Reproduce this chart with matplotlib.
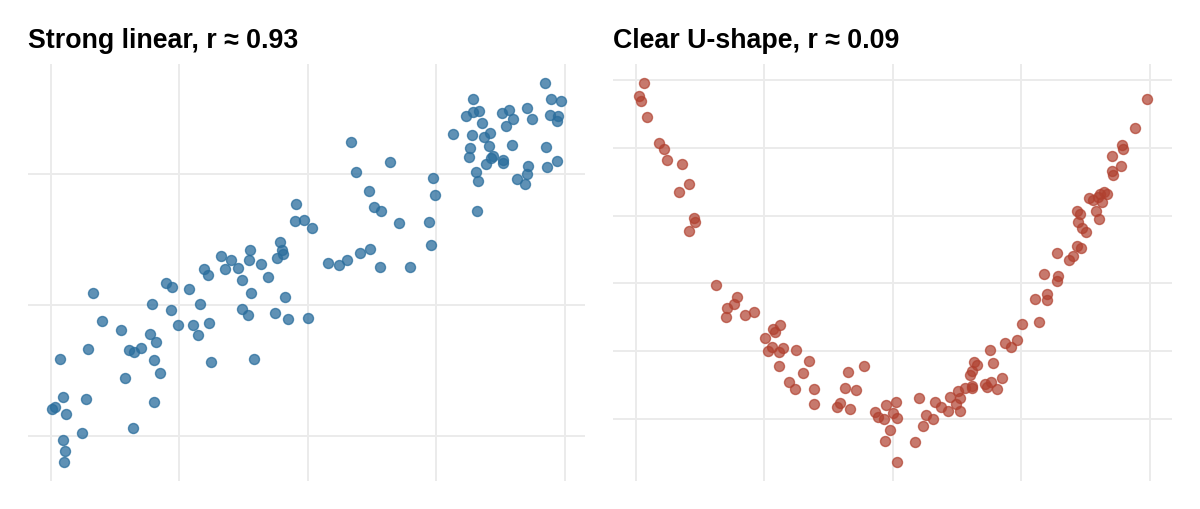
import matplotlib
matplotlib.use("Agg")
import matplotlib.pyplot as plt

# left panel: strong linear relationship
lin_x = [33.0, 35.0, 38.7, 44.9, 45.2, 44.0, 29.8, 30.6, 33.8, 36.4,
         38.5, 40.9, 37.1, 42.2, 22.3, 23.5, 26.8, 39.0, 8.2, 45.6,
         19.7, 29.0, 23.4, 37.2, 38.3, 43.6, 46.2, 50.0, 9.9, 13.7,
         24.8, 27.7, 30.7, 28.7, 19.3, 20.4, 7.1, 15.2, 16.2, 17.6,
         1.7, 20.0, 31.2, 39.6, 21.3, 14.3, 2.4, 6.8, 0.2, 0.8,
         2.9, 20.1, 6.0, 15.9, 2.3, 2.7, 2.5, 47.7, 47.4, 49.3,
         50.8, 44.6, 96.2, 97.4, 99.2, 82.1, 80.7, 82.1, 83.3, 87.7,
         89.2, 89.9, 88.5, 92.6, 93.6, 97.2, 98.7, 98.5, 83.9, 78.3,
         82.0, 84.3, 85.4, 81.5, 85.2, 89.7, 96.3, 81.4, 85.6, 86.1,
         87.9, 88.0, 84.7, 92.9, 96.6, 98.4, 82.7, 83.1, 92.6, 90.7,
         92.2, 82.9, 58.4, 59.3, 65.9, 74.3, 74.8, 61.8, 62.9, 64.3,
         67.7, 73.6, 73.9, 53.9, 56.1, 57.7, 60.1, 62.1, 64.1, 69.8]
lin_y = [137.4, 134.2, 142.2, 141.8, 138.8, 135.9, 127.4, 122.7, 127.4, 128.0,
         134.2, 131.3, 118.9, 121.7, 116.6, 113.5, 112.5, 109.3, 109.5, 106.5,
         100.9, 100.9, 96.0, 96.8, 92.5, 94.1, 89.2, 90.0, 88.2, 81.1,
         84.6, 84.6, 86.2, 77.3, 77.6, 72.0, 66.4, 65.6, 64.4, 67.5,
         59.1, 57.8, 56.5, 59.1, 47.9, 44.3, 30.2, 28.4, 20.8, 22.3,
         17.3, 25.9, 2.8, 6.1, -3.0, -11.4, -19.5, 177.2, 163.7, 165.2,
         158.9, 148.1, 269.2, 257.3, 255.3, 256.8, 244.3, 246.9, 247.7, 246.4,
         248.9, 241.8, 236.7, 250.2, 241.8, 244.9, 244.3, 240.1, 238.6, 230.4,
         229.7, 227.9, 231.2, 219.8, 221.1, 222.1, 220.8, 212.7, 212.2, 213.5,
         210.9, 208.1, 207.4, 205.6, 205.3, 209.7, 201.3, 194.4, 199.5, 196.2,
         192.6, 171.6, 224.3, 201.3, 209.1, 196.7, 184.0, 186.8, 174.4, 171.3,
         162.5, 163.3, 146.0, 132.1, 130.3, 134.1, 139.7, 142.7, 128.7, 128.7]

# right panel: U-shape
u_x = [-0.968, -0.989, -0.978, -0.958, -0.909, -0.891, -0.878, -0.821, -0.793, -0.833,
       -0.774, -0.769, -0.794, -0.688, -0.608, -0.618, -0.645, -0.650, -0.575, -0.542,
       -0.439, -0.466, -0.460, -0.499, -0.471, -0.429, -0.486, -0.444, -0.377, -0.326,
       -0.441, -0.350, -0.405, -0.380, -0.305, -0.307, -0.113, -0.174, -0.187, -0.143,
       -0.206, -0.219, -0.165, -0.069, -0.057, -0.035, -0.025, 0.012, 0.001, 0.017,
       -0.012, -0.031, 0.017, 0.086, 0.100, 0.118, 0.128, 0.157, 0.166, 0.188,
       0.215, 0.221, 0.245, 0.261, 0.252, 0.261, 0.281, 0.309, 0.310, 0.302,
       0.310, 0.316, 0.328, 0.358, 0.368, 0.381, 0.407, 0.424, 0.377, 0.389,
       0.436, 0.458, 0.482, 0.501, 0.568, 0.553, 0.599, 0.600, 0.589, 0.643,
       0.637, 0.637, 0.702, 0.685, 0.715, 0.734, 0.715, 0.728, 0.721, 0.737,
       0.752, 0.789, 0.803, 0.763, 0.779, 0.805, 0.821, 0.832, 0.799, 0.813,
       0.852, 0.886, 0.853, 0.855, 0.890, 0.894, 0.944, 0.988]
u_y = [0.991, 0.953, 0.937, 0.892, 0.814, 0.796, 0.763, 0.752, 0.692, 0.670,
       0.592, 0.581, 0.555, 0.396, 0.359, 0.339, 0.327, 0.300, 0.307, 0.314,
       0.278, 0.266, 0.256, 0.238, 0.212, 0.209, 0.199, 0.197, 0.204, 0.171,
       0.155, 0.134, 0.110, 0.089, 0.089, 0.045, 0.155, 0.138, 0.091, 0.086,
       0.047, 0.036, 0.030, 0.020, 0.007, 0.000, 0.041, 0.049, 0.018, 0.002,
       -0.032, -0.064, -0.128, -0.067, 0.062, -0.020, 0.013, 0.000, 0.051, 0.035,
       0.024, 0.064, 0.044, 0.022, 0.082, 0.062, 0.091, 0.098, 0.091, 0.130,
       0.142, 0.169, 0.159, 0.103, 0.094, 0.108, 0.088, 0.120, 0.204, 0.165,
       0.224, 0.212, 0.232, 0.280, 0.285, 0.354, 0.369, 0.352, 0.427, 0.423,
       0.408, 0.489, 0.482, 0.469, 0.509, 0.504, 0.612, 0.604, 0.582, 0.563,
       0.550, 0.614, 0.589, 0.651, 0.647, 0.664, 0.669, 0.663, 0.654, 0.641,
       0.775, 0.747, 0.732, 0.720, 0.809, 0.796, 0.859, 0.944]

titles = ["Strong linear, r \u2248 0.93", "Clear U-shape, r \u2248 0.09"]

plt.rcParams['font.family'] = ['Liberation Sans', 'DejaVu Sans']

fig = plt.figure(figsize=(12, 5.1), dpi=100)
ax1 = fig.add_axes([0.0233, 0.055, 0.464, 0.8176])
ax2 = fig.add_axes([0.5108, 0.055, 0.4658, 0.8176])

ax1.scatter(lin_x, lin_y, s=52, color='#2a6d9c', alpha=0.75, linewidths=1, zorder=3)
ax1.set_xlim(-4.5, 103.9)
ax1.set_ylim(-34, 283.7)
ax1.set_xticks([0, 25, 50, 75, 100])
ax1.set_yticks([0, 100, 200])

ax2.scatter(u_x, u_y, s=52, color='#b0402f', alpha=0.7, linewidths=1, zorder=3)
ax2.set_xlim(-1.089, 1.086)
ax2.set_ylim(-0.183, 1.047)
ax2.set_xticks([-1, -0.5, 0, 0.5, 1])
ax2.set_yticks([0, 0.2, 0.4, 0.6, 0.8, 1.0])

for ax, title in zip([ax1, ax2], titles):
    for side in ax.spines.values():
        side.set_visible(False)
    ax.grid(True, color='#ebebeb', linewidth=1.4)
    ax.set_axisbelow(True)
    ax.tick_params(length=0, labelbottom=False, labelleft=False)
    ax.set_title(title, loc='left', fontsize=19.3, fontweight='bold', pad=12)

fig.savefig('out.png', dpi=100, facecolor='white')
